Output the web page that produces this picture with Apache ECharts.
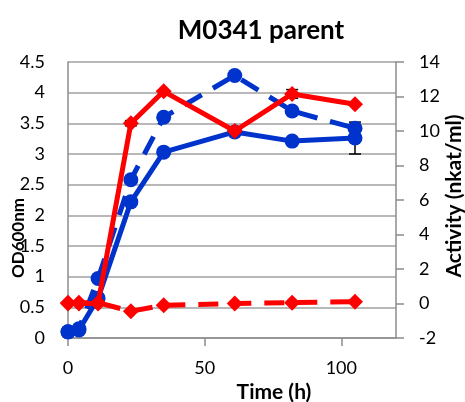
<!DOCTYPE html>
<html>
<head>
<meta charset="utf-8">
<script src="https://cdn.jsdelivr.net/npm/echarts@6/dist/echarts.min.js"></script>
<style>
  html, body { margin: 0; padding: 0; background: #fff; }
  #chart { width: 465px; height: 402px; }
</style>
</head>
<body>
<div id="chart"></div>
<script>
// sampling times (h)
const times = [0, 4, 11, 23, 35, 61, 82, 105];
// OD600nm, left axis
const odSolid = [0.1, 0.13, 0.65, 2.22, 3.03, 3.36, 3.21, 3.26];
const odDashed = [0.1, 0.15, 0.97, 2.58, 3.6, 4.28, 3.7, 3.42];
const odSolidErr = [0, 0, 0, 0, 0, 0, 0, 0.26];
// activity (nkat/ml), right axis
const actSolid = [0, 0, 0, 10.45, 12.3, 10.0, 12.15, 11.55];
const actDashed = [0.05, 0.05, 0.05, -0.45, -0.1, 0, 0.05, 0.1];
const actSolidErr = [0, 0, 0, 0.15, 0, 0.15, 0.25, 0];

const blue = "#0033CC";
const red = "#FF0000";
const font = "Lato, 'Open Sans', sans-serif";

function pairs(ys) {
  return times.map((t, i) => [t, ys[i]]);
}

function errorSeries(ys, errs, axisIndex) {
  return {
    type: "custom",
    yAxisIndex: axisIndex,
    z: 1,
    silent: true,
    data: times.map((t, i) => [t, ys[i] - errs[i], ys[i] + errs[i]]).filter((d, i) => errs[i] > 0),
    renderItem(params, api) {
      const lo = api.coord([api.value(0), api.value(1)]);
      const hi = api.coord([api.value(0), api.value(2)]);
      const w = 6;
      const style = { stroke: "#000", lineWidth: 1.5 };
      return {
        type: "group",
        children: [
          { type: "line", shape: { x1: lo[0], y1: lo[1], x2: hi[0], y2: hi[1] }, style },
          { type: "line", shape: { x1: lo[0] - w, y1: lo[1], x2: lo[0] + w, y2: lo[1] }, style },
          { type: "line", shape: { x1: hi[0] - w, y1: hi[1], x2: hi[0] + w, y2: hi[1] }, style }
        ]
      };
    }
  };
}

const chart = echarts.init(document.getElementById("chart"));

const option = {
  animation: false,
  textStyle: { fontFamily: font },
  title: {
    text: "M0341 parent",
    left: 256,
    top: 13,
    textAlign: "center",
    textStyle: { fontFamily: font, fontSize: 26, fontWeight: "bold", color: "#000" }
  },
  grid: { left: 68, right: 69, top: 62, bottom: 64, outerBoundsMode: "none" },
  graphic: [
    {
      type: "text",
      x: 19,
      y: 238,
      rotation: Math.PI / 2,
      style: {
        text: "OD600nm",
        font: "bold 17px " + font,
        fill: "#000",
        align: "center",
        verticalAlign: "middle"
      }
    },
    {
      type: "text",
      x: 454,
      y: 196,
      rotation: Math.PI / 2,
      style: {
        text: "Activity (nkat/ml)",
        font: "bold 21px " + font,
        fill: "#000",
        align: "center",
        verticalAlign: "middle"
      }
    }
  ],
  xAxis: {
    type: "value",
    min: 0,
    max: 120,
    interval: 50,
    name: "Time (h)",
    nameLocation: "middle",
    nameGap: 42,
    nameTextStyle: { fontFamily: font, fontSize: 21, fontWeight: "bold", color: "#000", padding: [0, 0, 0, 84] },
    axisLine: { lineStyle: { color: "#8C8C8C", width: 1.5 } },
    axisTick: { length: 8, lineStyle: { color: "#8C8C8C", width: 1.5 } },
    axisLabel: { showMaxLabel: false, fontSize: 18, color: "#000", margin: 21 },
    splitLine: { show: false }
  },
  yAxis: [
    {
      type: "value",
      min: 0,
      max: 4.5,
      interval: 0.5,
      axisLine: { show: true, lineStyle: { color: "#8C8C8C", width: 1.5 } },
      axisTick: { show: false },
      axisLabel: { fontSize: 18, color: "#000", margin: 23 },
      splitLine: { lineStyle: { color: "#A0A0A0", width: 1.5 } }
    },
    {
      type: "value",
      min: -2,
      max: 14,
      interval: 2,
      position: "right",
      axisLine: { show: true, lineStyle: { color: "#8C8C8C", width: 1.5 } },
      axisTick: { show: true, length: 8, lineStyle: { color: "#8C8C8C", width: 1.5 } },
      axisLabel: { fontSize: 18, color: "#000", margin: 23 },
      splitLine: { show: false }
    }
  ],
  series: [
    errorSeries(odSolid, odSolidErr, 0),
    errorSeries(actSolid, actSolidErr, 1),
    {
      type: "line",
      yAxisIndex: 0,
      data: pairs(odDashed),
      symbol: "circle",
      symbolSize: 15,
      itemStyle: { color: blue },
      lineStyle: { color: blue, width: 5, type: [20, 13] },
      z: 2
    },
    {
      type: "line",
      yAxisIndex: 0,
      data: pairs(odSolid),
      symbol: "circle",
      symbolSize: 15,
      itemStyle: { color: blue },
      lineStyle: { color: blue, width: 5 },
      z: 3
    },
    {
      type: "line",
      yAxisIndex: 1,
      data: pairs(actDashed),
      symbol: "diamond",
      symbolSize: 16,
      itemStyle: { color: red },
      lineStyle: { color: red, width: 5, type: [20, 13] },
      z: 4
    },
    {
      type: "line",
      yAxisIndex: 1,
      data: pairs(actSolid),
      symbol: "diamond",
      symbolSize: 16,
      itemStyle: { color: red },
      lineStyle: { color: red, width: 5 },
      z: 5
    }
  ]
};

chart.setOption(option);
</script>
</body>
</html>
